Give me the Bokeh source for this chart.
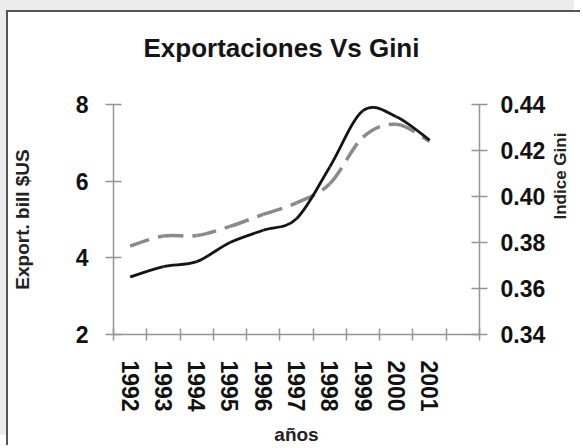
import math
from bokeh.plotting import figure
from bokeh.models import Range1d, LinearAxis, FixedTicker, NumeralTickFormatter, Title
from bokeh.embed import file_html
from bokeh.resources import INLINE

# ---- data ----
years = [1992, 1993, 1994, 1995, 1996, 1997, 1998, 1999, 2000, 2001]
year_labels = ["1992", "1993", "1994", "1995", "1996", "1997", "1998", "1999", "2000", "2001"]
exports = [3.50, 3.77, 3.90, 4.40, 4.72, 5.02, 6.37, 7.84, 7.68, 7.07]
gini = [0.3785, 0.3828, 0.3830, 0.3870, 0.3922, 0.3972, 0.4055, 0.4258, 0.4314, 0.4240]
left_ticks = [2, 4, 6, 8]
right_ticks = [0.34, 0.36, 0.38, 0.40, 0.42, 0.44]

FONT = "Liberation Sans"
AXIS_COL = "#959595"

W, H = 574, 435
p = figure(width=W, height=H, output_backend="svg", toolbar_location=None,
           x_range=Range1d(years[0] - 0.5, years[-1] + 1.5),
           y_range=Range1d(2, 8),
           min_border_left=103, min_border_right=100, min_border_top=92, min_border_bottom=111,
           title=None)
p.styles = {"border-left": "2px solid #555555", "border-top": "2px solid #555555",
            "margin-top": "10px", "margin-left": "6px",
            "box-shadow": "-6px -10px 0 0 #ececec"}
p.outline_line_color = None
p.grid.visible = False
p.background_fill_color = "white"
p.border_fill_color = "white"

# spacer (closest to frame) then the real title
p.add_layout(Title(text=" ", text_font_size="22px"), "above")
p.add_layout(Title(text="Exportaciones Vs Gini", text_font=FONT, text_font_size="26px",
                   text_font_style="bold", text_color="#151515", align="left", offset=30),
             "above")

p.extra_y_ranges = {"gini": Range1d(0.34, 0.44)}

# x axis
xa = p.xaxis[0]
xa.ticker = FixedTicker(ticks=years, minor_ticks=[y - 0.5 for y in years] + [years[-1] + 0.5, years[-1] + 1.5])
xa.major_label_overrides = {y: l for y, l in zip(years, year_labels)}
xa.major_tick_in = 0
xa.major_tick_out = 0
xa.minor_tick_in = 6
xa.minor_tick_out = 6
xa.major_label_orientation = "vertical"
xa.major_label_standoff = 20
xa.axis_label = "años"
xa.axis_label_standoff = 9

# left axis
ya = p.yaxis[0]
ya.ticker = FixedTicker(ticks=left_ticks)
ya.axis_label = "Export. bill $US"
ya.axis_label_standoff = 40
ya.major_label_standoff = 17
ya.major_tick_in = 8
ya.major_tick_out = 8
ya.minor_tick_in = 0
ya.minor_tick_out = 0

# right axis
ra = LinearAxis(y_range_name="gini", ticker=FixedTicker(ticks=right_ticks),
                formatter=NumeralTickFormatter(format="0.00"),
                axis_label="Indice Gini")
ra.major_label_standoff = 13
ra.axis_label_standoff = 12
ra.major_tick_in = 8
ra.major_tick_out = 8
ra.minor_tick_in = 0
ra.minor_tick_out = 0
try:
    ra.axis_label_orientation = math.pi / 2
except Exception:
    pass
p.add_layout(ra, "right")

for ax in [xa, ya, ra]:
    ax.axis_line_color = AXIS_COL
    ax.axis_line_width = 1.5
    ax.major_tick_line_color = AXIS_COL
    ax.minor_tick_line_color = AXIS_COL
    ax.major_tick_line_width = 1.5
    ax.minor_tick_line_width = 1.5
    ax.major_label_text_font = FONT
    ax.major_label_text_font_style = "bold"
    ax.major_label_text_font_size = "23px"
    ax.major_label_text_color = "#111111"
    ax.axis_label_text_font = FONT
    ax.axis_label_text_font_style = "bold"
    ax.axis_label_text_font_size = "19px"
    ax.axis_label_text_color = "#222222"
ra.axis_label_text_font_size = "17px"


def smooth_segments(xs, ys):
    n = len(xs)
    out = {k: [] for k in ["x0", "y0", "x1", "y1", "cx0", "cy0", "cx1", "cy1"]}
    for i in range(n - 1):
        im = max(i - 1, 0)
        ip2 = min(i + 2, n - 1)
        out["x0"].append(xs[i]); out["y0"].append(ys[i])
        out["x1"].append(xs[i + 1]); out["y1"].append(ys[i + 1])
        out["cx0"].append(xs[i] + (xs[i + 1] - xs[im]) / 6.0)
        out["cy0"].append(ys[i] + (ys[i + 1] - ys[im]) / 6.0)
        out["cx1"].append(xs[i + 1] - (xs[ip2] - xs[i]) / 6.0)
        out["cy1"].append(ys[i + 1] - (ys[ip2] - ys[i]) / 6.0)
    return out


g = smooth_segments(years, gini)
p.bezier(x0=g["x0"], y0=g["y0"], x1=g["x1"], y1=g["y1"],
         cx0=g["cx0"], cy0=g["cy0"], cx1=g["cx1"], cy1=g["cy1"],
         y_range_name="gini", line_color="#8a8a8a", line_width=3.5, line_dash="20 9")

e = smooth_segments(years, exports)
p.bezier(x0=e["x0"], y0=e["y0"], x1=e["x1"], y1=e["y1"],
         cx0=e["cx0"], cy0=e["cy0"], cx1=e["cx1"], cy1=e["cy1"],
         line_color="#151515", line_width=2.8)

open("out.html", "w").write(file_html(p, INLINE))
